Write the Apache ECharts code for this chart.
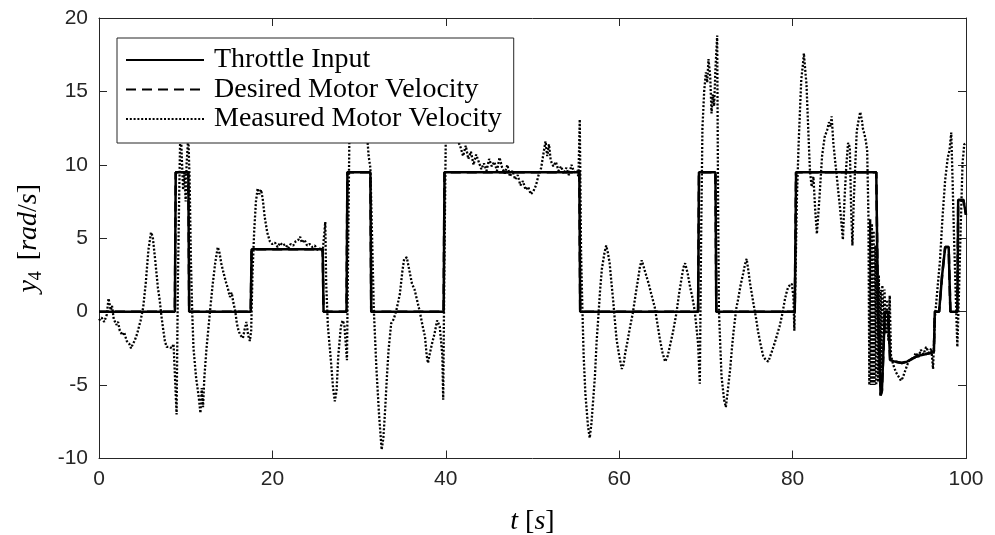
<!DOCTYPE html>
<html>
<head>
<meta charset="utf-8">
<script src="https://cdn.jsdelivr.net/npm/echarts@6/dist/echarts.min.js"></script>
<style>
  html, body { margin: 0; padding: 0; background: #ffffff; }
  #chart { width: 995px; height: 535px; }
</style>
</head>
<body>
<div id="chart"></div>
<script>
// Axis ranges and tick spacing
const xRange = [0, 100];
const xStep = 20;
const yRange = [-10, 20];
const yStep = 5;

const seriesNames = ['Throttle Input', 'Desired Motor Velocity', 'Measured Motor Velocity'];

// Throttle command [t (s), value]
const throttleInput = [
  [0, 0], [8.75, 0], [8.85, 9.5], [10.3, 9.5], [10.4, 0],
  [17.5, 0], [17.6, 4.25], [25.8, 4.25], [25.9, 0],
  [28.55, 0], [28.65, 9.5], [31.3, 9.5], [31.4, 0],
  [39.75, 0], [39.85, 9.5], [55.4, 9.5], [55.5, 0],
  [69.1, 0], [69.2, 9.5], [71.1, 9.5], [71.2, 0],
  [80.25, 0], [80.4, 9.5], [89.65, 9.5], [89.85, 0], [90.15, -5.7], [90.3, -5.4], [90.65, 0],
  [91.0, 0], [91.25, -3.3], [91.8, -3.4], [92.6, -3.5], [93.2, -3.4], [93.8, -3.2],
  [94.5, -3.0], [95.3, -2.9], [96.0, -2.8], [96.3, -2.7], [96.4, 0], [96.9, 0],
  [97.25, 2.5], [97.6, 4.4], [98.0, 4.4], [98.2, 0], [99.0, 0], [99.1, 7.6], [99.7, 7.6], [100, 6.6]
];

// Desired motor velocity [t (s), rad/s]
const desiredVelocity = [
  [0, 0], [8.75, 0], [8.85, 9.5], [10.3, 9.5], [10.4, 0],
  [17.5, 0], [17.6, 4.25], [25.8, 4.25], [25.9, 0],
  [28.55, 0], [28.65, 9.5], [31.3, 9.5], [31.4, 0],
  [39.75, 0], [39.85, 9.5], [55.4, 9.5], [55.5, 0],
  [69.1, 0], [69.2, 9.5], [71.1, 9.5], [71.2, 0],
  [80.25, 0], [80.4, 9.5], [89.65, 9.5], [89.85, 0], [90.15, -5.7], [90.3, -5.4], [90.65, 0],
  [91.0, 0], [91.25, -3.3], [91.8, -3.4], [92.6, -3.5], [93.2, -3.4], [93.8, -3.2],
  [94.5, -3.0], [95.3, -2.9], [96.0, -2.8], [96.3, -2.7], [96.4, 0], [96.9, 0],
  [97.25, 2.5], [97.6, 4.4], [98.0, 4.4], [98.2, 0], [99.0, 0], [99.1, 7.6], [99.7, 7.6], [100, 6.6]
];

// Measured motor velocity [t (s), rad/s]
const measuredVelocity = [
  [0, -0.6], [0.3, -0.4], [0.6, -0.7], [0.9, -0.2], [1.1, 0.9], [1.2, 1.0], [1.35, 0.1], [1.5, 0.4],
  [1.7, -0.5], [2.0, -0.9], [2.2, -0.7], [2.4, -1.3], [2.7, -1.6], [2.9, -1.4], [3.2, -2.0], [3.5, -2.2],
  [3.7, -2.5], [3.9, -2.2], [4.1, -2.0], [4.4, -1.5], [4.8, -0.6], [5.1, 0.3], [5.4, 2.0], [5.7, 4.2],
  [6.0, 5.4], [6.2, 5.1], [6.5, 3.4], [6.8, 1.6], [7.0, 0.8], [7.2, -0.3], [7.4, -1.2], [7.6, -2.0],
  [7.8, -2.4], [8.1, -2.4], [8.4, -2.5], [8.6, -2.2], [8.8, -2.3], [8.95, -7.0], [9.1, 2.0], [9.25, 8.0],
  [9.4, 13.0], [9.55, 10.5], [9.7, 8.3], [9.85, 9.5], [10.0, 7.5], [10.1, 10.0], [10.3, 12.0], [10.45, 9.0],
  [10.6, 3.5], [10.75, 0], [10.9, -2.5], [11.2, -4.5], [11.5, -5.8], [11.7, -6.9], [11.85, -5.2], [12.0, -6.5],
  [12.15, -4.5], [12.4, -2.5], [12.8, 0], [13.1, 1.8], [13.4, 3.3], [13.7, 4.4], [13.9, 4.0], [14.1, 3.3],
  [14.3, 2.8], [14.6, 2.1], [14.9, 1.5], [15.1, 1.0], [15.3, 1.3], [15.5, 0.6], [15.7, 0.1], [15.9, -0.8],
  [16.1, -1.3], [16.3, -1.6], [16.6, -1.8], [16.8, -1.2], [17.0, -0.7], [17.2, -1.6], [17.4, -2.0], [17.55, -1.3],
  [17.7, 2.5], [17.9, 5.5], [18.1, 7.5], [18.3, 8.4], [18.5, 8.0], [18.7, 8.3], [18.9, 7.6], [19.1, 6.5],
  [19.4, 5.4], [19.7, 4.8], [20.0, 4.6], [20.3, 4.7], [20.6, 4.4], [20.9, 4.7], [21.2, 4.5], [21.5, 4.6],
  [21.8, 4.3], [22.1, 4.6], [22.4, 4.5], [22.7, 4.8], [23.0, 4.9], [23.2, 5.1], [23.4, 4.7], [23.7, 4.9],
  [24.0, 4.5], [24.3, 4.6], [24.6, 4.4], [24.9, 4.5], [25.2, 4.2], [25.5, 4.3], [25.8, 4.1], [26.0, 4.2],
  [26.1, 6.1], [26.2, 2.0], [26.4, -1.0], [26.7, -3.0], [27.0, -5.2], [27.2, -6.1], [27.4, -5.4], [27.6, -3.0],
  [27.9, -1.0], [28.1, -0.6], [28.3, -0.9], [28.5, -2.5], [28.6, -3.3], [28.75, 5.0], [28.9, 13.0], [29.2, 11.5],
  [29.5, 13.5], [30.0, 14.0], [30.5, 13.0], [30.9, 12.2], [31.1, 10.6], [31.3, 9.8], [31.5, 5.0], [31.7, 0.1],
  [32.0, -3.9], [32.3, -7.0], [32.6, -9.4], [32.8, -8.6], [33.0, -6.7], [33.2, -4.5], [33.4, -2.6], [33.7, -0.8],
  [34.0, -0.5], [34.3, 0.1], [34.7, 1.2], [35.0, 2.8], [35.2, 3.6], [35.5, 3.7], [35.8, 2.8], [36.1, 1.9],
  [36.4, 1.5], [36.6, 1.0], [36.8, 0.9], [37.0, 0], [37.3, -0.9], [37.6, -1.7], [37.8, -3.0], [37.95, -3.5],
  [38.1, -3.0], [38.4, -2.2], [38.7, -1.5], [39.0, -0.6], [39.3, -1.0], [39.6, -3.0], [39.7, -6.0], [39.85, 4.0],
  [40.0, 12.0], [40.3, 13.5], [40.8, 12.5], [41.3, 11.8], [41.7, 11.2], [42.0, 10.6], [42.3, 11.3], [42.6, 10.4],
  [42.9, 10.9], [43.2, 10.0], [43.5, 10.7], [43.8, 10.2], [44.1, 9.7], [44.4, 10.1], [44.7, 9.6], [45.0, 10.4],
  [45.3, 9.9], [45.6, 10.2], [45.9, 9.6], [46.2, 10.5], [46.5, 9.8], [46.8, 9.4], [47.1, 10.0], [47.4, 9.2],
  [47.7, 9.6], [48.0, 9.0], [48.3, 9.3], [48.6, 8.6], [48.9, 8.9], [49.2, 8.3], [49.5, 8.5], [49.8, 8.0],
  [50.1, 8.2], [50.4, 8.6], [50.7, 9.3], [51.0, 9.8], [51.3, 10.9], [51.5, 11.6], [51.7, 10.6], [51.9, 11.4],
  [52.1, 10.3], [52.4, 9.9], [52.7, 10.2], [53.0, 9.6], [53.3, 9.9], [53.6, 9.4], [53.9, 9.8], [54.2, 9.3],
  [54.5, 10.0], [54.8, 9.5], [55.1, 9.6], [55.3, 9.2], [55.45, 13.1], [55.6, 4.0], [55.75, 0.3], [55.9, -3.0],
  [56.1, -5.6], [56.4, -7.8], [56.6, -8.6], [56.8, -7.6], [57.0, -6.0], [57.2, -4.4], [57.4, -2.0], [57.6, -0.3],
  [57.8, 1.5], [58.0, 2.9], [58.3, 4.0], [58.5, 4.5], [58.7, 4.0], [58.9, 3.3], [59.1, 2.0], [59.3, 0.8],
  [59.5, -0.6], [59.7, -1.9], [60.0, -3.0], [60.3, -3.9], [60.5, -3.6], [60.7, -2.8], [60.9, -2.2], [61.2, -1.2],
  [61.6, 0], [61.9, 1.2], [62.2, 2.3], [62.4, 3.1], [62.6, 3.5], [62.8, 3.1], [63.1, 2.5], [63.4, 1.9],
  [63.7, 1.2], [64.1, 0.3], [64.4, -0.8], [64.7, -1.9], [65.0, -2.8], [65.3, -3.4], [65.6, -3.0], [65.9, -2.2],
  [66.2, -1.4], [66.6, -0.1], [66.9, 1.2], [67.2, 2.3], [67.4, 3.0], [67.6, 3.3], [67.9, 2.6], [68.2, 1.6],
  [68.4, 1.1], [68.7, 0.1], [68.9, -1.0], [69.1, -2.2], [69.3, -4.9], [69.45, 5.0], [69.6, 12.5], [69.8, 15.0],
  [70.0, 16.3], [70.15, 15.6], [70.3, 17.2], [70.5, 16.0], [70.65, 13.5], [70.8, 14.8], [70.95, 14.0], [71.1, 16.5],
  [71.3, 18.8], [71.4, 8.0], [71.5, 0.1], [71.8, -4.4], [72.1, -6.0], [72.3, -6.5], [72.5, -5.5], [72.8, -3.9],
  [73.0, -2.5], [73.2, -1.3], [73.5, 0.2], [73.7, 0.8], [74.0, 1.8], [74.3, 2.6], [74.5, 3.2], [74.7, 3.6],
  [74.9, 2.8], [75.1, 1.9], [75.3, 1.2], [75.5, 0.5], [75.8, -0.5], [76.0, -1.3], [76.3, -2.2], [76.6, -3.0],
  [76.9, -3.3], [77.2, -3.4], [77.5, -2.9], [77.9, -2.2], [78.2, -1.6], [78.5, -1.0], [78.8, -0.2], [79.1, 0.8],
  [79.3, 1.3], [79.5, 1.7], [79.9, 1.9], [80.1, 1.0], [80.2, -1.3], [80.35, 3.0], [80.5, 7.8], [80.7, 11.5],
  [80.85, 13.7], [81.0, 15.8], [81.2, 16.9], [81.3, 17.6], [81.45, 16.5], [81.6, 15.5], [81.8, 12.5], [82.0, 9.6],
  [82.2, 8.5], [82.4, 9.2], [82.6, 7.0], [82.8, 5.3], [82.95, 6.5], [83.1, 7.8], [83.4, 10.6], [83.7, 11.9],
  [84.0, 12.4], [84.2, 12.9], [84.4, 12.6], [84.5, 13.3], [84.7, 11.5], [84.9, 10.3], [85.1, 9.2], [85.3, 8.0],
  [85.5, 6.9], [85.8, 4.9], [86.0, 7.8], [86.2, 10.0], [86.4, 11.5], [86.6, 11.2], [86.75, 7.0], [86.9, 4.5],
  [87.05, 7.5], [87.2, 9.6], [87.4, 12.3], [87.6, 13.0], [87.8, 13.6], [88.0, 13.0], [88.1, 12.5], [88.4, 11.8],
  [88.6, 11.0], [88.75, 6.4], [88.85, -5.0], [88.95, 6.3], [89.05, -5.0], [89.15, 6.0], [89.25, -5.0], [89.35, 5.5],
  [89.45, -5.0], [89.55, 4.5], [89.65, -5.0], [89.75, 3.5], [89.85, -4.8], [89.95, 2.5], [90.05, -4.5], [90.15, 1.5],
  [90.25, -4.0], [90.35, 1.8], [90.5, -1.0], [90.6, 1.5], [90.75, -1.5], [90.9, 0.8], [91.05, -2.0], [91.2, 1.1],
  [91.35, -3.0], [91.6, -3.6], [91.9, -4.1], [92.2, -4.4], [92.5, -4.7], [92.7, -4.5], [93.0, -4.0], [93.3, -3.5],
  [93.6, -3.2], [93.9, -3.3], [94.2, -2.8], [94.5, -3.1], [94.8, -2.6], [95.1, -2.9], [95.4, -2.4], [95.7, -2.8],
  [96.0, -2.5], [96.2, -3.9], [96.4, -0.5], [96.7, 1.5], [97.0, 3.5], [97.3, 6.5], [97.6, 9.0], [97.9, 10.5],
  [98.1, 11.0], [98.3, 12.2], [98.45, 9.0], [98.6, 5.5], [98.8, 1.5], [99.0, -2.4], [99.2, 1.5], [99.4, 6.0],
  [99.6, 10.1], [99.8, 11.4], [100, 11.5]
];

const axisColor = '#262626';
const tickFont = { fontFamily: 'Liberation Sans, Arial, sans-serif', fontSize: 21, color: axisColor };
const serifFont = 'Liberation Serif, Times New Roman, serif';

const chart = echarts.init(document.getElementById('chart'), null, { renderer: 'canvas' });

const boxAxis = {
  axisLine: { show: true, onZero: false, lineStyle: { color: axisColor, width: 1 } },
  axisTick: { show: true, inside: true, length: 8, lineStyle: { color: axisColor, width: 1 } },
  splitLine: { show: false }
};

chart.setOption({
  animation: false,
  backgroundColor: '#ffffff',
  grid: { left: 99, right: 29, top: 18, bottom: 76.5, containLabel: false, outerBoundsMode: 'none' },
  legend: {
    orient: 'vertical',
    left: 117,
    top: 38,
    z: 10,
    padding: [8, 12, 10, 8],
    itemGap: 1.5,
    itemWidth: 78,
    itemHeight: 1,
    backgroundColor: '#ffffff',
    borderColor: axisColor,
    borderWidth: 1,
    borderRadius: 0,
    data: seriesNames,
    textStyle: { fontFamily: serifFont, fontSize: 28, color: '#000', lineHeight: 28, padding: [0, 0, 0, 5] }
  },
  xAxis: [
    Object.assign({
      type: 'value', min: xRange[0], max: xRange[1], interval: xStep, position: 'bottom',
      name: '{i|t} [{i|s}]',
      nameLocation: 'middle', nameGap: 49,
      nameTextStyle: {
        fontFamily: serifFont, fontSize: 28, color: '#000',
        rich: { i: { fontFamily: serifFont, fontStyle: 'italic', fontSize: 28, color: '#000' } }
      },
      axisLabel: Object.assign({ margin: 10 }, tickFont)
    }, boxAxis),
    Object.assign({
      type: 'value', min: xRange[0], max: xRange[1], interval: xStep, position: 'top',
      axisLabel: { show: false }
    }, boxAxis)
  ],
  yAxis: [
    Object.assign({
      type: 'value', min: yRange[0], max: yRange[1], interval: yStep, position: 'left',
      name: '{i|y}{sub|4} [{i|rad}/{i|s}]',
      nameLocation: 'middle', nameRotate: 90, nameGap: 54,
      nameTextStyle: {
        fontFamily: serifFont, fontSize: 28, color: '#000', lineHeight: 32,
        rich: {
          i: { fontFamily: serifFont, fontStyle: 'italic', fontSize: 28, color: '#000', lineHeight: 32 },
          sub: { fontFamily: serifFont, fontSize: 18, color: '#000', lineHeight: 32, verticalAlign: 'bottom', padding: [0, 4, 0, 0] }
        }
      },
      axisLabel: Object.assign({ margin: 11 }, tickFont)
    }, boxAxis),
    Object.assign({
      type: 'value', min: yRange[0], max: yRange[1], interval: yStep, position: 'right',
      axisLabel: { show: false }
    }, boxAxis)
  ],
  series: [
    {
      name: seriesNames[0], type: 'line', data: throttleInput, xAxisIndex: 0, yAxisIndex: 0,
      symbol: 'none', showSymbol: false,
      lineStyle: { color: '#000', width: 2.5, type: 'solid' }, itemStyle: { color: '#000' }
    },
    {
      name: seriesNames[1], type: 'line', data: desiredVelocity, xAxisIndex: 0, yAxisIndex: 0,
      symbol: 'none', showSymbol: false,
      lineStyle: { color: '#000', width: 2.5, type: [10, 6] }, itemStyle: { color: '#000' }
    },
    {
      name: seriesNames[2], type: 'line', data: measuredVelocity, xAxisIndex: 0, yAxisIndex: 0,
      symbol: 'none', showSymbol: false,
      lineStyle: { color: '#000', width: 2.3, type: [2, 1.8] }, itemStyle: { color: '#000' }
    }
  ]
});
</script>
</body>
</html>
